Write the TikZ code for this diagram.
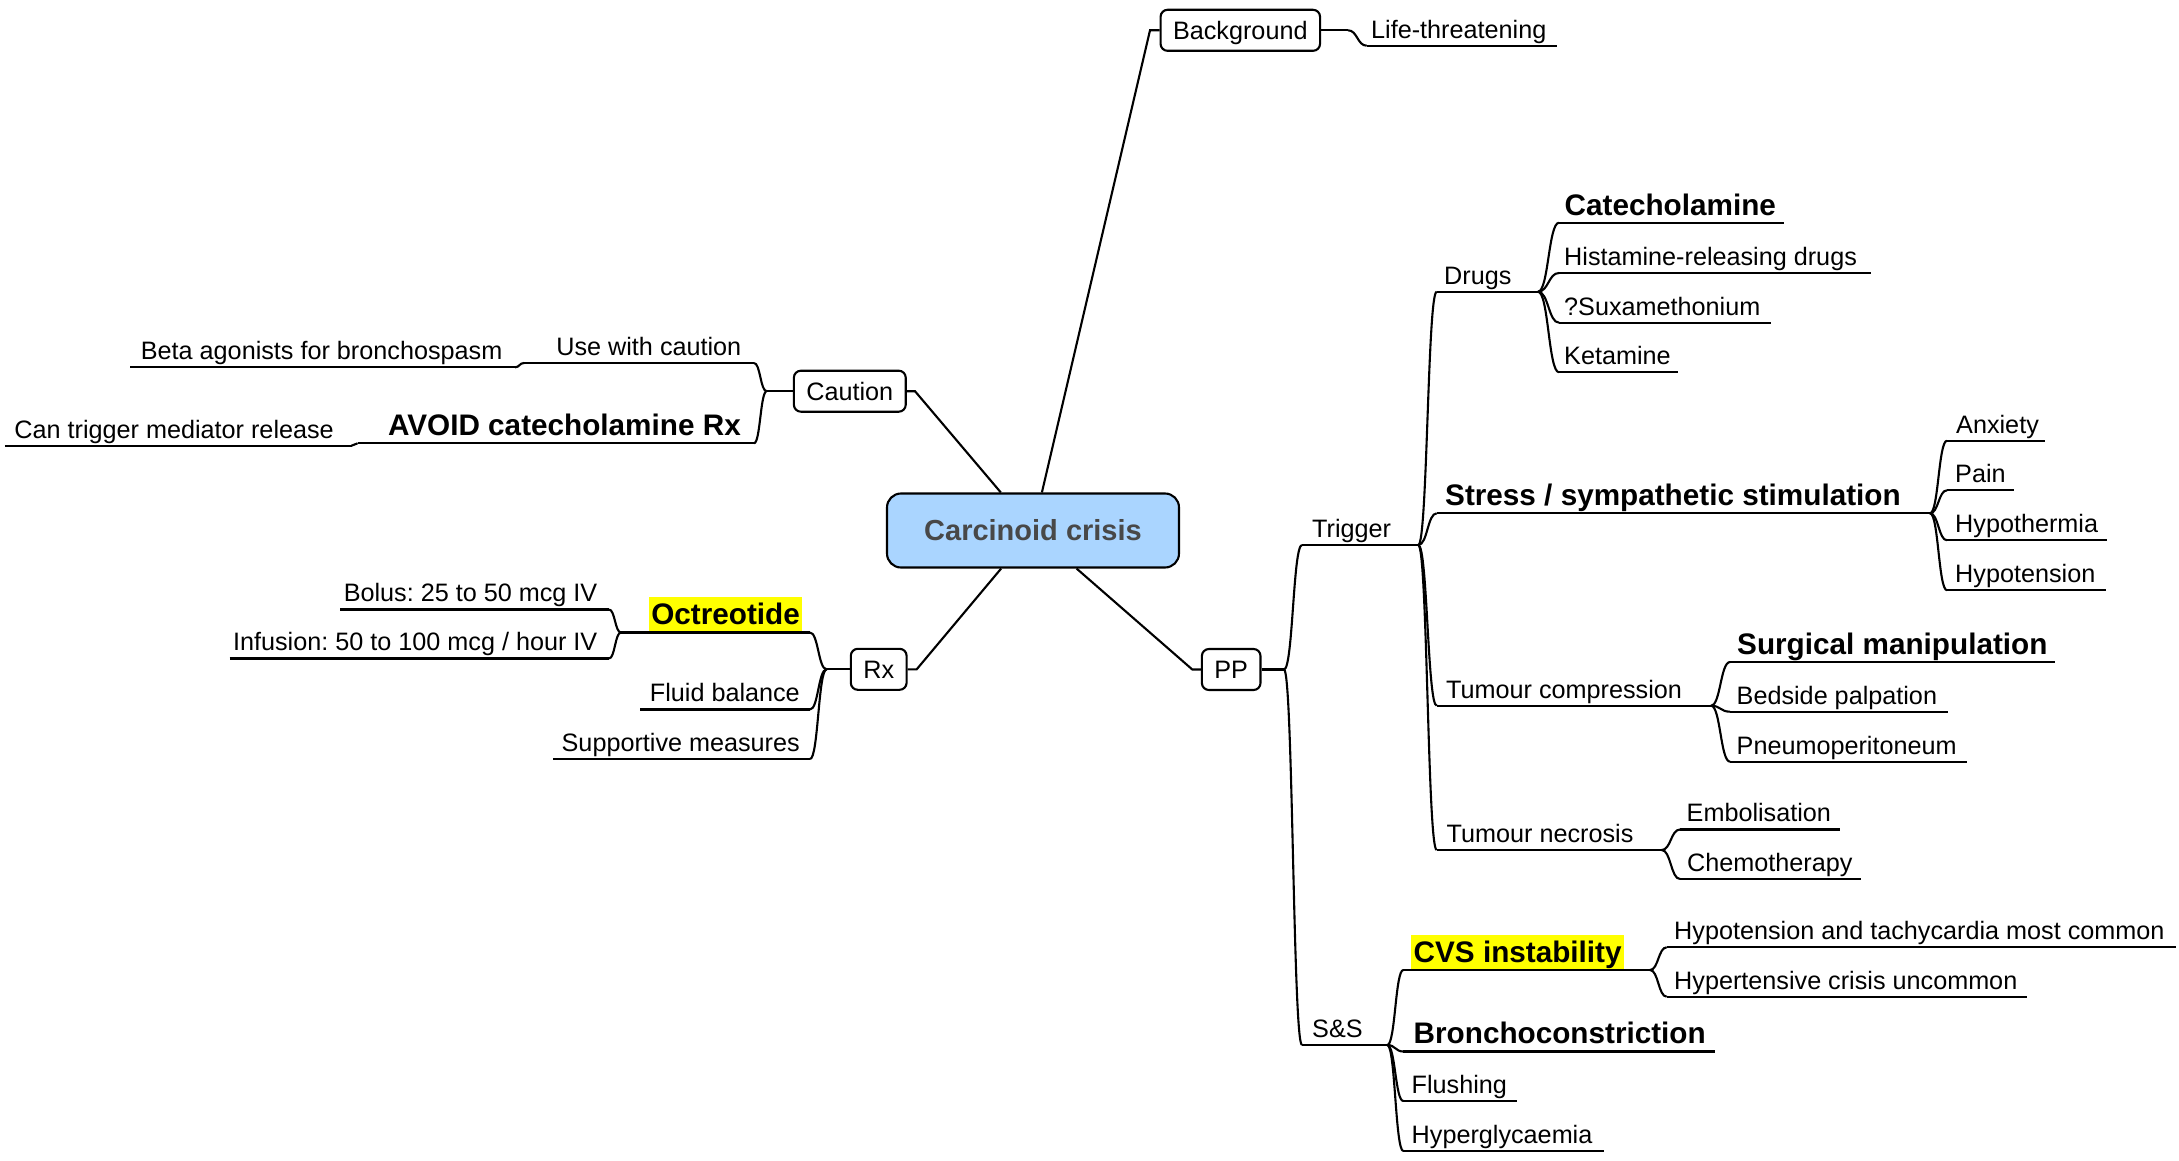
\documentclass[tikz,border=0pt]{standalone}
\usepackage{fontspec}
\setmainfont{Liberation Sans}
\usetikzlibrary{calc}
\frenchspacing

\definecolor{hubfill}{RGB}{170,213,255}
\definecolor{hubtext}{RGB}{72,72,72}
\definecolor{marker}{RGB}{255,255,0}

\tikzset{
  link/.style={line width=2.1pt, black},
  uline/.style={line width=2.1pt, black},
  branch/.style={to path={.. controls ($(\tikztostart)!0.5!(\tikztotarget|-\tikztostart)$)
                          and ($(\tikztostart|-\tikztotarget)!0.5!(\tikztotarget)$) .. (\tikztotarget)}},
  txt/.style={inner sep=0pt, font=\fontsize{25.2}{30}\selectfont},
  btxt/.style={inner sep=0pt, font=\fontsize{29.7}{35}\selectfont\bfseries},
  hilite/.style={fill=marker, inner xsep=2.5pt, inner ysep=0pt, text height=27.5pt, text depth=7.3pt},
  topic/.style={draw, line width=2.1pt, rounded corners=7pt, minimum height=41pt,
                inner xsep=12.5pt, inner ysep=0pt, text height=18pt, text depth=0pt,
                font=\fontsize{25.2}{30}\selectfont},
  hub/.style={draw, line width=2.1pt, fill=hubfill, rounded corners=14pt,
              minimum width=292pt, minimum height=74pt, text=hubtext,
              font=\fontsize{29}{35}\selectfont\bfseries}
}

% underlined topic growing to the right: [style]{name}{x left}{x right}{y line}{x text}{text}
\newcommand{\itemR}[7][txt]{%
  \coordinate (#2L) at (#3,#5);
  \coordinate (#2R) at (#4,#5);
  \node[#1, anchor=base west] (#2) at (#6,#5-7.6) {#7};
  \draw[uline] (#2L) -- (#2R);
}
% underlined topic growing to the left: [style]{name}{x left}{x right}{y line}{x text end}{text}
\newcommand{\itemL}[7][txt]{%
  \coordinate (#2L) at (#3,#5);
  \coordinate (#2R) at (#4,#5);
  \node[#1, anchor=base east] (#2) at (#6,#5-7.6) {#7};
  \draw[uline] (#2L) -- (#2R);
}

\begin{document}
\begin{tikzpicture}[x=1pt, y=-1pt]
\useasboundingbox[fill=white] (0,0) rectangle (2179,1161);

% central topic and main branches
\node[hub] (hub) at (1033,530.5) {Carcinoid crisis};
\node[topic] (bg) at (1240.3,30.3) {Background};
\node[topic] (caution) at (849.8,391.2) {Caution};
\node[topic] (rx) at (878.7,669.3) {Rx};
\node[topic] (pp) at (1231.2,669.5) {PP};

\coordinate (bgin) at (1150,30.3);
\coordinate (cauin) at (915,391.2);
\coordinate (rxin) at (916.7,669.3);
\coordinate (ppin) at (1192.3,669.5);
\draw[link] (hub) -- (bgin) -- (bg.west);
\draw[link] (hub) -- (cauin) -- (caution.east);
\draw[link] (hub) -- (rxin) -- (rx.east);
\draw[link] (hub) -- (ppin) -- (pp.west);

\coordinate (bgout) at (1348,30.3);
\coordinate (cauout) at (766.7,391.2);
\coordinate (rxout) at (826.6,669.3);
\coordinate (ppout) at (1284,669.5);
\draw[link] (bg.east) -- (bgout);
\draw[link] (caution.west) -- (cauout);
\draw[link] (rx.west) -- (rxout);
\draw[link] (pp.east) -- (ppout);

% Background
\itemR{life}{1366.7}{1557}{45.7}{1371}{Life-threatening}
\draw[link] (bgout) to[branch] (lifeL);

% Caution
\itemL{usecau}{524}{754}{363}{741.5}{Use with caution}
\itemL[btxt]{avoid}{357.6}{754}{443.3}{741}{AVOID catecholamine Rx}
\itemL{beta}{130}{515}{367.3}{502.5}{Beta agonists for bronchospasm}
\itemL{cantrig}{4.8}{351.5}{445.7}{334}{Can trigger mediator release}
\draw[link] (cauout) to[branch] (usecauR);
\draw[link] (cauout) to[branch] (avoidR);
\draw[link] (usecauL) to[branch] (betaR);
\draw[link] (avoidL) to[branch] (cantrigR);

% Rx
\itemL[btxt,hilite]{octr}{621}{810}{632.5}{802.5}{Octreotide}
\itemL{fluid}{640}{810}{709.5}{800}{Fluid balance}
\itemL{supp}{553}{810}{759}{800}{Supportive measures}
\itemL{bolus}{340}{609}{609.5}{597.5}{Bolus: 25 to 50 mcg IV}
\itemL{infu}{229.7}{609}{658.5}{597.5}{Infusion: 50 to 100 mcg / hour IV}
\draw[link] (rxout) to[branch] (octrR);
\draw[link] (rxout) to[branch] (fluidR);
\draw[link] (rxout) to[branch] (suppR);
\draw[link] (octrL) to[branch] (bolusR);
\draw[link] (octrL) to[branch] (infuR);

% PP
\itemR{trig}{1302}{1418.3}{545}{1312}{Trigger}
\itemR{sas}{1302}{1387.3}{1045}{1312}{S\&S}
\draw[link] (ppout) to[branch] (trigL);
\draw[link] (ppout) to[branch] (sasL);

% Trigger
\itemR{drugs}{1436.7}{1538}{291.7}{1444}{Drugs}
\itemR[btxt]{stress}{1436.7}{1930}{513.3}{1445}{Stress / sympathetic stimulation}
\itemR{tcomp}{1436.7}{1711}{705.7}{1446}{Tumour compression}
\itemR{tnec}{1436.7}{1661.7}{850}{1446.5}{Tumour necrosis}
\draw[link] (trigR) to[branch] (drugsL);
\draw[link] (trigR) to[branch] (stressL);
\draw[link] (trigR) to[branch] (tcompL);
\draw[link] (trigR) to[branch] (tnecL);

% Drugs
\itemR[btxt]{cate}{1559}{1784}{222.7}{1564.5}{Catecholamine}
\itemR{hist}{1559}{1870.7}{273}{1564}{Histamine-releasing drugs}
\itemR{sux}{1559}{1770.7}{322.7}{1564}{?Suxamethonium}
\itemR{ket}{1559}{1678}{372.3}{1564}{Ketamine}
\draw[link] (drugsR) to[branch] (cateL);
\draw[link] (drugsR) to[branch] (histL);
\draw[link] (drugsR) to[branch] (suxL);
\draw[link] (drugsR) to[branch] (ketL);

% Stress
\itemR{anx}{1947}{2045}{440.7}{1956}{Anxiety}
\itemR{pain}{1947}{2014}{490.3}{1955}{Pain}
\itemR{hypoth}{1947}{2107}{540.3}{1955}{Hypothermia}
\itemR{hypot}{1947}{2106}{590.3}{1955}{Hypotension}
\draw[link] (stressR) to[branch] (anxL);
\draw[link] (stressR) to[branch] (painL);
\draw[link] (stressR) to[branch] (hypothL);
\draw[link] (stressR) to[branch] (hypotL);

% Tumour compression
\itemR[btxt]{surg}{1730}{2055}{662}{1737}{Surgical manipulation}
\itemR{bed}{1730}{1948.3}{711.7}{1736.5}{Bedside palpation}
\itemR{pneu}{1730}{1966.7}{761.7}{1736.5}{Pneumoperitoneum}
\draw[link] (tcompR) to[branch] (surgL);
\draw[link] (tcompR) to[branch] (bedL);
\draw[link] (tcompR) to[branch] (pneuL);

% Tumour necrosis
\itemR{embo}{1680}{1840}{829.5}{1686.5}{Embolisation}
\itemR{chemo}{1680}{1860.7}{879}{1687}{Chemotherapy}
\draw[link] (tnecR) to[branch] (emboL);
\draw[link] (tnecR) to[branch] (chemoL);

% S&S
\itemR[btxt,hilite]{cvs}{1403.3}{1650}{970}{1411}{CVS instability}
\itemR[btxt]{bronch}{1403.3}{1715}{1051.5}{1413.5}{Bronchoconstriction}
\itemR{flush}{1403.3}{1516.7}{1101}{1411.5}{Flushing}
\itemR{hyperg}{1403.3}{1604}{1151}{1411.5}{Hyperglycaemia}
\draw[link] (sasR) to[branch] (cvsL);
\draw[link] (sasR) to[branch] (bronchL);
\draw[link] (sasR) to[branch] (flushL);
\draw[link] (sasR) to[branch] (hypergL);

% CVS instability
\itemR{hypotach}{1666.7}{2176.3}{947.3}{1674}{Hypotension and tachycardia most common}
\itemR{hypertens}{1666.7}{2027.3}{996.7}{1674}{Hypertensive crisis uncommon}
\draw[link] (cvsR) to[branch] (hypotachL);
\draw[link] (cvsR) to[branch] (hypertensL);

\end{tikzpicture}
\end{document}
